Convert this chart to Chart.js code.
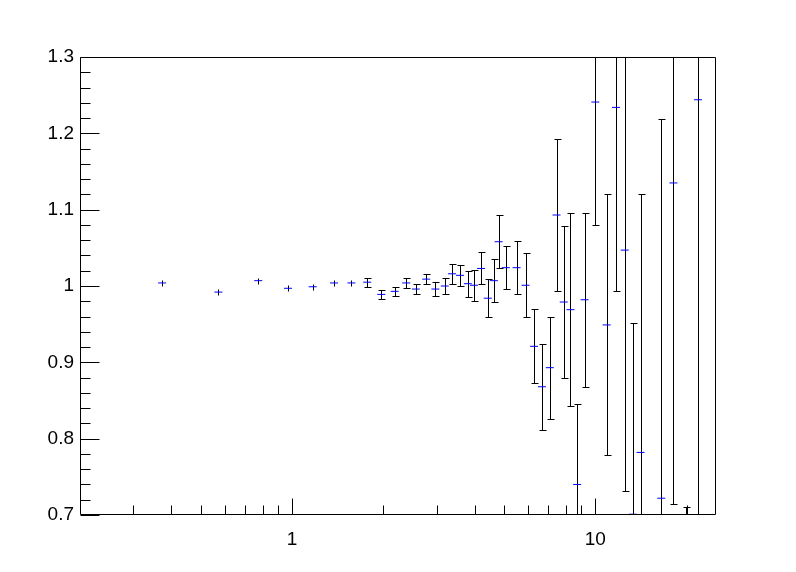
<!DOCTYPE html>
<html>
<head>
<meta charset="utf-8">
<script src="https://cdn.jsdelivr.net/npm/chart.js@4/dist/chart.umd.min.js"></script>
<style>
  html, body { margin: 0; padding: 0; background: #fff; }
  #wrap { width: 796px; height: 572px; }
</style>
</head>
<body>
<div id="wrap"><canvas id="ratioChart"></canvas></div>
<script>
// bin centres (log x axis)
const xVals = [0.373, 0.572, 0.774, 0.97, 1.17, 1.376, 1.57, 1.77, 1.97, 2.18,
  2.38, 2.56, 2.77, 2.97, 3.19, 3.37, 3.58, 3.80, 3.98, 4.20,
  4.42, 4.63, 4.80, 5.07, 5.50, 5.89, 6.28, 6.67, 7.08, 7.45,
  7.87, 8.28, 8.71, 9.22, 10.0, 10.9, 11.7, 12.5, 13.3, 14.1,
  16.5, 18.1, 19.9, 21.8];
// ratio values
const yVals = [1.004, 0.992, 1.007, 0.997, 0.999, 1.004, 1.004, 1.005, 0.989, 0.993,
  1.004, 0.996, 1.009, 0.996, 1.000, 1.016, 1.014, 1.003, 1.001, 1.023,
  0.984, 1.007, 1.058, 1.024, 1.024, 1.001, 0.921, 0.868, 0.893, 1.093,
  0.979, 0.969, 0.740, 0.982, 1.241, 0.949, 1.234, 1.047, 0.701, 0.782,
  0.722, 1.135, 0.550, 1.244];
// vertical errors
const yErr = [0.004, 0.004, 0.004, 0.004, 0.004, 0.004, 0.004, 0.006, 0.006, 0.006,
  0.006, 0.006, 0.007, 0.009, 0.011, 0.013, 0.014, 0.017, 0.020, 0.021,
  0.025, 0.028, 0.035, 0.028, 0.035, 0.042, 0.0485, 0.056, 0.067, 0.100,
  0.100, 0.126, 0.106, 0.114, 0.161, 0.171, 0.240, 0.315, 0.250, 0.338,
  0.497, 0.420, 0.160, 0.600];

const yTicks = [0.7, 0.8, 0.9, 1.0, 1.1, 1.2, 1.3];
const xTicks = [1, 10];

const FONT = '"Liberation Sans", Arial, Helvetica, sans-serif';

const rootStyle = {
  id: 'rootStyle',
  beforeDatasetsDraw(chart) {
    const { ctx, chartArea: a, scales: { x, y } } = chart;
    ctx.save();
    ctx.beginPath();
    ctx.rect(a.left, a.top, a.right - a.left, a.bottom - a.top);
    ctx.clip();
    ctx.strokeStyle = '#000';
    ctx.lineWidth = 1;
    xVals.forEach((xv, i) => {
      const px = Math.round(x.getPixelForValue(xv)) + 0.5;
      const py = y.getPixelForValue(yVals[i]);
      const lo = Math.round(y.getPixelForValue(yVals[i] - yErr[i])) + 0.5;
      const hi = Math.round(y.getPixelForValue(yVals[i] + yErr[i])) + 0.5;
      ctx.beginPath();
      ctx.moveTo(px, lo);
      ctx.lineTo(px, hi);
      // no caps when the bar is hidden by the marker
      if (lo - py > 4) {
        ctx.moveTo(px - 3, lo);
        ctx.lineTo(px + 4, lo);
        ctx.moveTo(px - 3, hi);
        ctx.lineTo(px + 4, hi);
      }
      ctx.stroke();
    });
    ctx.restore();
  },
  afterDraw(chart) {
    const { ctx, chartArea: a, scales: { x, y } } = chart;
    ctx.save();
    ctx.strokeStyle = '#000';
    ctx.lineWidth = 1;
    ctx.beginPath();
    // frame
    ctx.rect(Math.round(a.left) + 0.5, Math.round(a.top) + 0.5,
      Math.round(a.right - a.left) - 1, Math.round(a.bottom - a.top) - 1);
    // y ticks, drawn inside
    const L = Math.round(a.left) + 0.5;
    for (let k = 0; k <= 30; k++) {
      const v = 0.7 + k * 0.02;
      const py = Math.round(y.getPixelForValue(v)) + 0.5;
      const len = (k % 5 === 0) ? 19 : 10;
      ctx.moveTo(L, py);
      ctx.lineTo(L + len, py);
    }
    // x ticks (log), drawn inside
    const B = Math.round(a.bottom) - 0.5;
    const xm = [];
    [0.1, 1, 10].forEach(d => { for (let m = 1; m <= 9; m++) xm.push(m * d); });
    xm.forEach(v => {
      if (v <= 0.2 || v >= 25) return;
      const px = Math.round(x.getPixelForValue(v)) + 0.5;
      const major = xTicks.includes(Math.round(v * 1000) / 1000);
      ctx.moveTo(px, B);
      ctx.lineTo(px, B - (major ? 16 : 9));
    });
    ctx.stroke();
    ctx.restore();
  }
};

new Chart(document.getElementById('ratioChart'), {
  type: 'scatter',
  data: {
    datasets: [{
      data: xVals.map((xv, i) => ({ x: xv, y: yVals[i] })),
      pointStyle: 'line',
      pointRadius: 4,
      pointHoverRadius: 4,
      borderColor: '#0000ff',
      backgroundColor: '#0000ff',
      borderWidth: 1
    }]
  },
  options: {
    responsive: true,
    maintainAspectRatio: false,
    animation: false,
    events: [],
    layout: { padding: { left: 0, top: 57, right: 80, bottom: 0 } },
    plugins: { legend: { display: false }, tooltip: { enabled: false } },
    scales: {
      x: {
        type: 'logarithmic',
        min: 0.2,
        max: 25,
        afterFit: s => { s.height = 57; },
        afterBuildTicks: s => { s.ticks = xTicks.map(v => ({ value: v })); },
        grid: { display: false, drawTicks: false },
        border: { display: false },
        ticks: {
          color: '#000',
          padding: 13,
          maxRotation: 0,
          autoSkip: false,
          font: { family: FONT, size: 19 },
          callback: v => String(v)
        }
      },
      y: {
        min: 0.7,
        max: 1.3,
        afterFit: s => { s.width = 80; },
        afterBuildTicks: s => { s.ticks = yTicks.map(v => ({ value: v })); },
        grid: { display: false, drawTicks: false },
        border: { display: false },
        ticks: {
          color: '#000',
          padding: 6,
          font: { family: FONT, size: 19 },
          callback: v => String(Number(v.toFixed(1)))
        }
      }
    }
  },
  plugins: [rootStyle]
});
</script>
</body>
</html>
